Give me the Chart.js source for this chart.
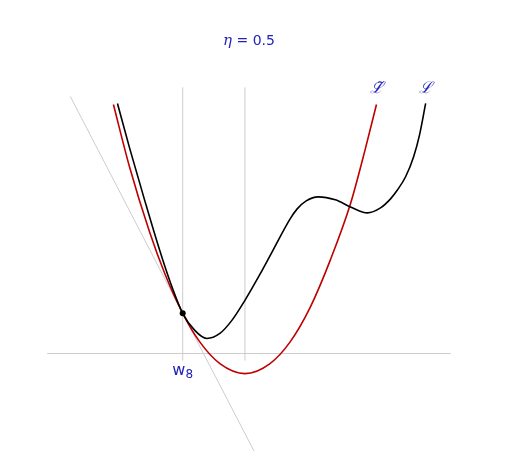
<!DOCTYPE html>
<html>
<head>
<meta charset="utf-8">
<script src="https://cdn.jsdelivr.net/npm/chart.js@4/dist/chart.umd.min.js"></script>
<style>
html,body{margin:0;padding:0;background:#fff;}
#wrap{width:516px;height:465px;}
</style>
</head>
<body>
<div id="wrap"><canvas id="c" width="516" height="465"></canvas></div>
<script>
// ---- data ----
const titleText = "η = 0.5";
const lossLabel = "ℒ";
const approxLabel = "ℒ\u0303";
const pointLabel = "w";
const pointSub = "8";

// loss curve L (black)
const lossX = [-2.048, -1.855, -1.613, -1.371, -1.194, -1.0, -0.806, -0.613, -0.403, -0.21, 0.0, 0.242, 0.452, 0.726, 0.839, 0.984, 1.177, 1.452, 1.694, 1.968, 2.177, 2.339, 2.452, 2.581, 2.71, 2.806, 2.903];
const lossY = [6.225, 5.125, 3.825, 2.575, 1.75, 1.0, 0.575, 0.375, 0.5, 0.825, 1.325, 1.975, 2.575, 3.35, 3.6, 3.8, 3.9, 3.825, 3.65, 3.5, 3.625, 3.85, 4.075, 4.4, 4.9, 5.45, 6.225];

// quadratic approximation L~ (red)
const approxX = [-2.113, -1.855, -1.532, -1.29, -1.0, -0.726, -0.403, 0.0, 0.403, 0.726, 1.048, 1.371, 1.694, 1.935, 2.113];
const approxY = [6.2, 4.65, 3.025, 2.0, 1.0, 0.29, -0.25, -0.5, -0.25, 0.29, 1.15, 2.325, 3.72, 5.1, 6.2];

// tangent line (gray)
const tangentX = [-2.806, 0.145];
const tangentY = [6.4, -2.425];

// current iterate w8 and next iterate
const w8 = -1.0;
const w8Loss = 1.0;
const wNext = 0.0;
const guideTop = 6.625;
const guideBottom = -0.175;
const axisX = [-3.177, 3.306];
const axisY = 0;

const toPts = (xs, ys) => xs.map((x, i) => ({x: x, y: ys[i]}));

const blue = 'rgb(35,35,185)';
const gray = 'rgb(205,205,205)';

const textPlugin = {
  id: 'texts',
  afterDatasetsDraw(chart) {
    const ctx = chart.ctx;
    const xs = chart.scales.x;
    ctx.save();
    ctx.fillStyle = blue;
    ctx.textBaseline = 'alphabetic';
    // title
    const parts = [['italic 15px "DejaVu Serif"', 'η'], ['14px "DejaVu Sans"', ' = 0.5']];
    let total = 0;
    parts.forEach(p => { ctx.font = p[0]; total += ctx.measureText(p[1]).width; });
    let cx = 249 - total / 2;
    parts.forEach(p => { ctx.font = p[0]; ctx.textAlign = 'left'; ctx.fillText(p[1], cx, 45); cx += ctx.measureText(p[1]).width; });
    // curve labels
    ctx.font = 'italic 16px "DejaVu Serif"';
    ctx.textAlign = 'center';
    ctx.fillText(approxLabel, xs.getPixelForValue(approxX[approxX.length - 1]), 93);
    ctx.fillText(lossLabel, xs.getPixelForValue(lossX[lossX.length - 1]), 93);
    // w8 label
    const px = xs.getPixelForValue(w8);
    ctx.font = '16px "DejaVu Sans"';
    ctx.textAlign = 'left';
    const ww = ctx.measureText(pointLabel).width;
    ctx.font = '12px "DejaVu Sans"';
    const sw = ctx.measureText(pointSub).width;
    const start = px - (ww + sw) / 2;
    ctx.font = '16px "DejaVu Sans"';
    ctx.fillText(pointLabel, start, 375);
    ctx.font = '12px "DejaVu Sans"';
    ctx.fillText(pointSub, start + ww, 378);
    ctx.restore();
  }
};

new Chart(document.getElementById('c'), {
  type: 'line',
  data: {
    datasets: [
      {data: [{x: w8, y: w8Loss}], showLine: false, pointRadius: 3, pointBackgroundColor: '#000', pointBorderWidth: 0, order: 0},
      {data: toPts(lossX, lossY), borderColor: '#000', borderWidth: 1.6, pointRadius: 0, cubicInterpolationMode: 'monotone', order: 1},
      {data: toPts(approxX, approxY), borderColor: 'rgb(190,0,0)', borderWidth: 1.6, pointRadius: 0, cubicInterpolationMode: 'monotone', order: 2},
      {data: toPts(tangentX, tangentY), borderColor: gray, borderWidth: 1, pointRadius: 0, order: 3},
      {data: toPts(axisX, [axisY, axisY]), borderColor: gray, borderWidth: 1, pointRadius: 0, order: 4},
      {data: toPts([w8, w8], [guideBottom, guideTop]), borderColor: gray, borderWidth: 1, pointRadius: 0, order: 5},
      {data: toPts([wNext, wNext], [guideBottom, guideTop]), borderColor: gray, borderWidth: 1, pointRadius: 0, order: 6}
    ]
  },
  options: {
    responsive: false,
    animation: false,
    devicePixelRatio: 1,
    layout: {padding: 0},
    plugins: {legend: {display: false}, tooltip: {enabled: false}, title: {display: false}},
    scales: {
      x: {type: 'linear', display: false, min: -240 / 62, max: 266 / 62},
      y: {type: 'linear', display: false, min: -107 / 40, max: 348 / 40}
    }
  },
  plugins: [textPlugin]
});
</script>
</body>
</html>
